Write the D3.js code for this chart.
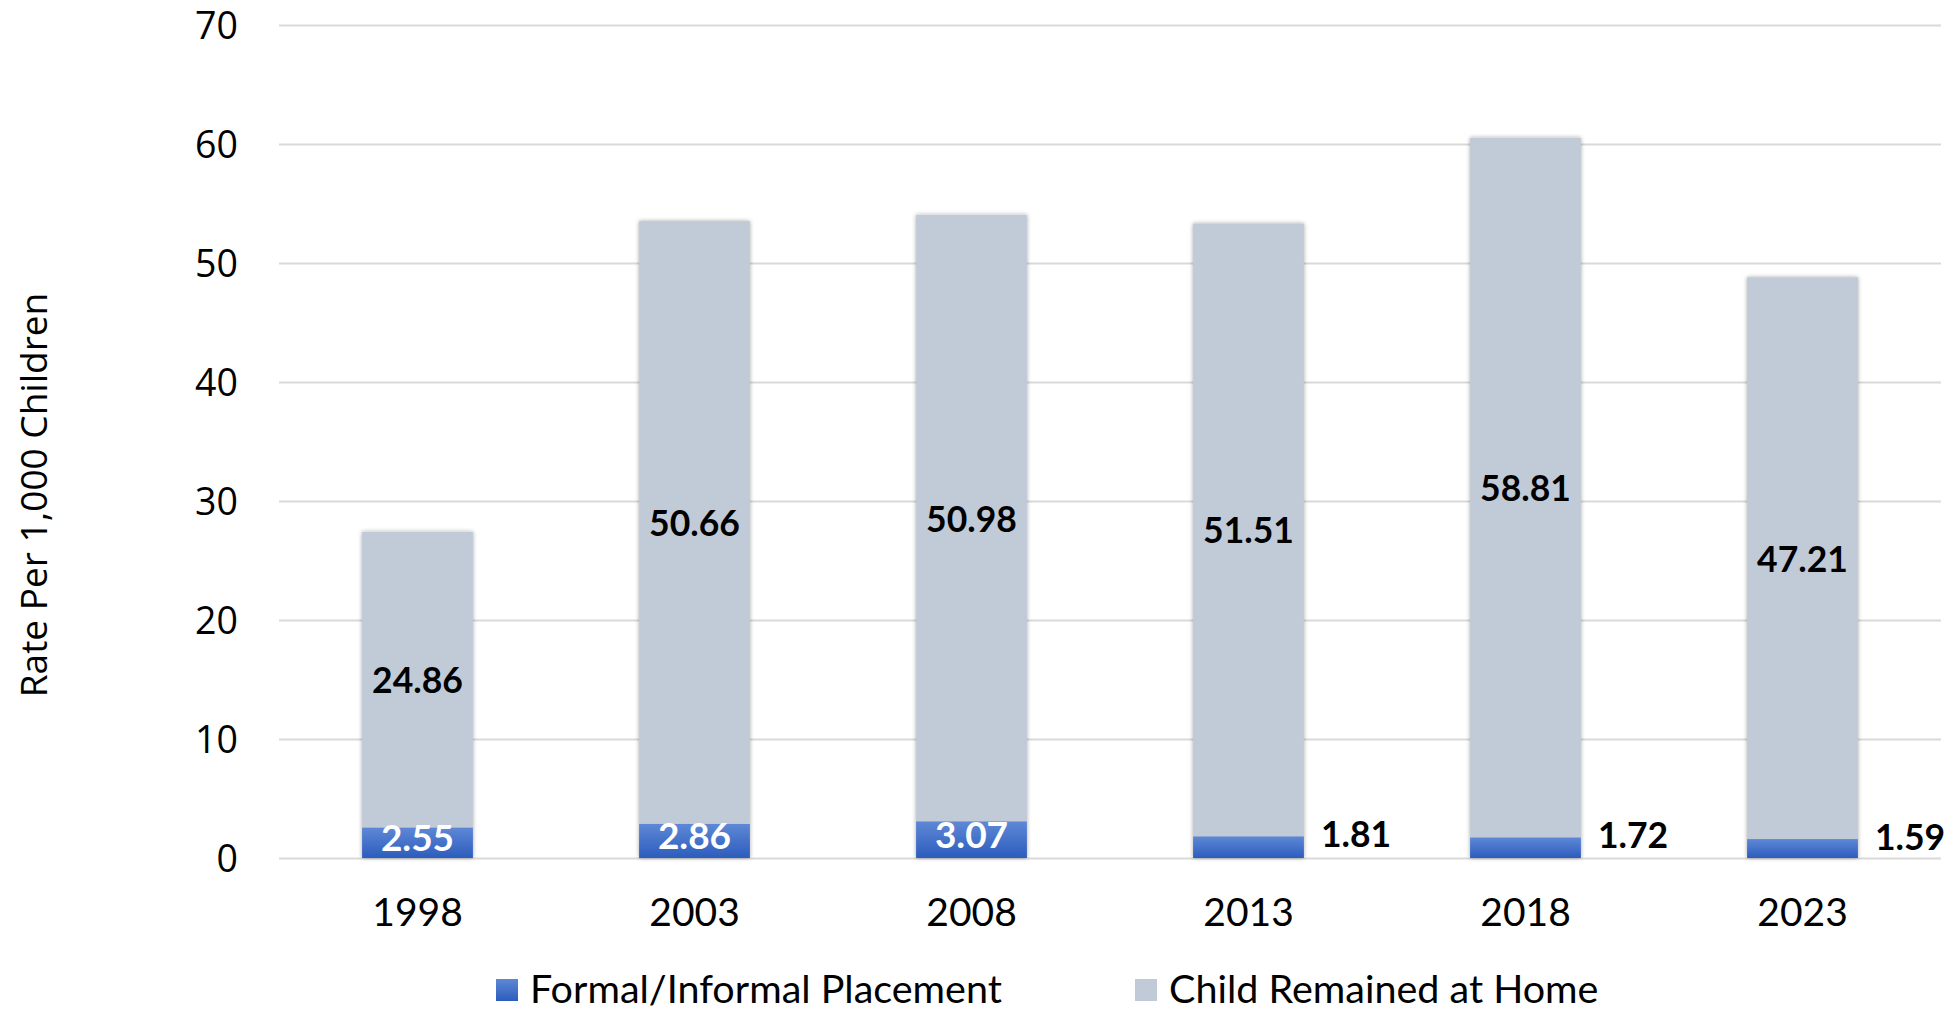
<!DOCTYPE html>
<html>
<head>
<meta charset="utf-8">
<script src="https://cdn.jsdelivr.net/npm/d3@7"></script>
<style>
  html, body { margin: 0; padding: 0; background: #fff; }
  svg { display: block; }
</style>
</head>
<body>
<svg id="chart" width="1960" height="1013"></svg>
<script>
const years = ["1998", "2003", "2008", "2013", "2018", "2023"];
const placement = [2.55, 2.86, 3.07, 1.81, 1.72, 1.59];
const remainedHome = [24.86, 50.66, 50.98, 51.51, 58.81, 47.21];
const yTicks = [0, 10, 20, 30, 40, 50, 60, 70];
const seriesNames = ["Formal/Informal Placement", "Child Remained at Home"];
const yTitle = "Rate Per 1,000 Children";

const svg = d3.select("#chart");
const W = 1960, H = 1013;
const m = { left: 279, right: 19, top: 25, bottom: 155 };

const x = d3.scaleBand().domain(years).range([m.left, W - m.right]).paddingInner(0.6).paddingOuter(0.3);
const y = d3.scaleLinear().domain([0, 70]).range([H - m.bottom, m.top]);

const defs = svg.append("defs");
const grad = defs.append("linearGradient").attr("id", "blueGrad").attr("x1", 0).attr("y1", 0).attr("x2", 0).attr("y2", 1);
grad.append("stop").attr("offset", "0%").attr("stop-color", "#5E88D6");
grad.append("stop").attr("offset", "100%").attr("stop-color", "#2C5CBD");
const f = defs.append("filter").attr("id", "shadow").attr("x", "-20%").attr("y", "-20%").attr("width", "140%").attr("height", "140%");
f.append("feDropShadow").attr("dx", 0).attr("dy", 0).attr("stdDeviation", 2.2).attr("flood-color", "#000").attr("flood-opacity", 0.35);

// gridlines
svg.append("g")
  .attr("transform", `translate(${m.left},0)`)
  .call(d3.axisLeft(y).tickValues(yTicks).tickSize(-(W - m.left - m.right)).tickFormat(""))
  .call(g => g.select(".domain").remove())
  .call(g => g.selectAll("line").attr("stroke", "#D9D9D9").attr("stroke-width", 2));

// y tick labels
svg.append("g")
  .attr("transform", `translate(238,0)`)
  .call(d3.axisLeft(y).tickValues(yTicks).tickSize(0).tickPadding(0))
  .call(g => g.select(".domain").remove())
  .call(g => g.selectAll("text").attr("font-family", "'Open Sans', sans-serif").attr("font-size", 37.5).attr("fill", "#000").attr("dy", "0.36em"));

// y title
svg.append("text")
  .attr("transform", `translate(47,495) rotate(-90)`)
  .attr("text-anchor", "middle")
  .attr("font-family", "'Open Sans', sans-serif")
  .attr("font-size", 37)
  .attr("fill", "#000")
  .text(yTitle);

// bars
const data = years.map((yr, i) => ({ yr, a: placement[i], b: remainedHome[i] }));
const bars = svg.append("g");
const bw = x.bandwidth();
bars.selectAll("g.bar").data(data).join("g").attr("class", "bar").each(function (d) {
  const g = d3.select(this);
  g.append("rect")
    .attr("x", x(d.yr)).attr("width", bw)
    .attr("y", y(d.a + d.b)).attr("height", y(0) - y(d.a + d.b))
    .attr("fill", "#C1CAD7").attr("filter", "url(#shadow)");
  g.append("rect")
    .attr("x", x(d.yr)).attr("width", bw)
    .attr("y", y(d.a)).attr("height", y(0) - y(d.a))
    .attr("fill", "url(#blueGrad)");
});

// x axis labels
svg.append("g")
  .attr("transform", `translate(0,926)`)
  .call(d3.axisBottom(x).tickSize(0).tickPadding(0))
  .call(g => g.select(".domain").remove())
  .call(g => g.selectAll("text").attr("font-family", "Lato, sans-serif").attr("font-size", 39).attr("fill", "#000").attr("dy", 0));

// data labels
const lab = svg.append("g").attr("font-family", "Lato, sans-serif").attr("font-weight", "bold").attr("font-size", 35.5);
data.forEach(d => {
  lab.append("text")
    .attr("x", x(d.yr) + bw / 2).attr("y", y(d.a + d.b / 2))
    .attr("text-anchor", "middle").attr("dominant-baseline", "central")
    .attr("fill", "#000").text(d.b.toFixed(2));
  if (d.a >= 2) {
    lab.append("text")
      .attr("x", x(d.yr) + bw / 2).attr("y", y(d.a / 2) - 6)
      .attr("text-anchor", "middle").attr("dominant-baseline", "central")
      .attr("fill", "#fff").attr("font-size", 37).text(d.a.toFixed(2));
  } else {
    lab.append("text")
      .attr("x", x(d.yr) + bw + 17).attr("y", y(d.a) - 3)
      .attr("text-anchor", "start").attr("dominant-baseline", "central")
      .attr("fill", "#000").text(d.a.toFixed(2));
  }
});

// legend
const legend = svg.append("g").attr("font-family", "Lato, sans-serif").attr("font-size", 39.5);
const legendX = [496, 1135];
const legendFill = ["url(#blueGrad)", "#C1CAD7"];
seriesNames.forEach((name, i) => {
  legend.append("rect").attr("x", legendX[i]).attr("y", 979).attr("width", 22).attr("height", 22).attr("fill", legendFill[i]);
  legend.append("text").attr("x", legendX[i] + 34).attr("y", 1003).attr("fill", "#000").text(name);
});
</script>
</body>
</html>
